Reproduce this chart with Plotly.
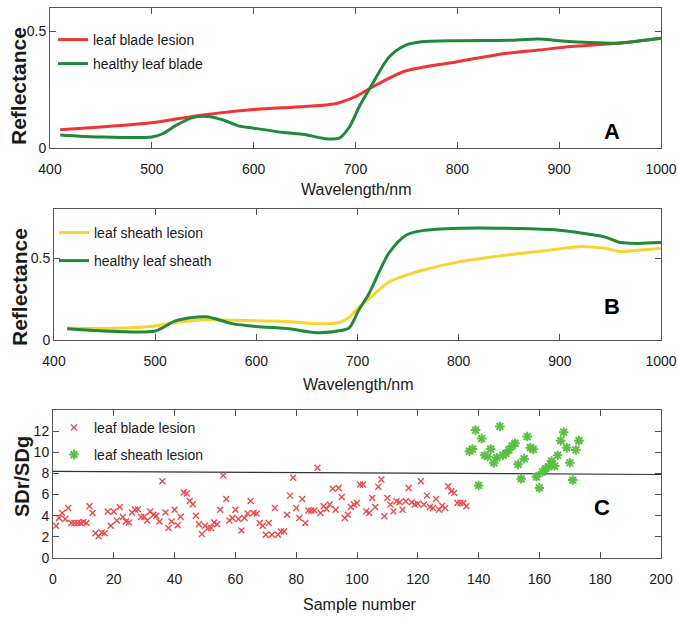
import plotly.graph_objects as go

# ---------------- Panel A data ----------------
blade_lesion_wl = [410, 450, 500, 550, 600, 650, 680, 700, 716, 749, 800, 847, 880, 912, 961, 1000]
blade_lesion = [0.078, 0.09, 0.108, 0.142, 0.165, 0.178, 0.19, 0.22, 0.26, 0.33, 0.37, 0.405, 0.42, 0.435, 0.45, 0.47]

healthy_blade_wl = [410, 450, 500, 510, 525, 540, 555, 570, 585, 600, 630, 650, 670, 684, 694, 704, 716, 733, 749,
                    765, 800, 850, 880, 900, 930, 960, 1000]
healthy_blade = [0.056, 0.047, 0.047, 0.06, 0.10, 0.13, 0.135, 0.12, 0.095, 0.085, 0.066, 0.058, 0.04, 0.042, 0.09,
                 0.18, 0.27, 0.39, 0.44, 0.455, 0.46, 0.462, 0.467, 0.46, 0.452, 0.45, 0.47]

# ---------------- Panel B data ----------------
sheath_wl = [413, 445, 500, 520, 550, 576, 600, 632, 659, 682, 692, 701, 711, 731, 748, 764, 800, 846, 895, 918,
             944, 960, 977, 1000]
sheath_lesion = [0.074, 0.07, 0.086, 0.107, 0.124, 0.12, 0.117, 0.113, 0.099, 0.107, 0.14, 0.2, 0.25, 0.354, 0.395,
                 0.426, 0.477, 0.518, 0.553, 0.57, 0.56, 0.54, 0.548, 0.56]
healthy_sheath = [0.068, 0.056, 0.055, 0.117, 0.142, 0.10, 0.082, 0.068, 0.045, 0.056, 0.076, 0.18, 0.28, 0.53, 0.64,
                  0.668, 0.683, 0.683, 0.673, 0.656, 0.63, 0.595, 0.59, 0.595]

# ---------------- Panel C data ----------------
blade_ratio = [3.05, 3.78, 4.25, 3.7, 4.73, 3.3, 3.3, 3.3, 3.3, 3.4, 3.3, 4.89, 4.25, 2.35, 2.05, 2.4, 2.35, 4.4,
               3.05, 4.4, 3.55, 4.83, 3.87, 3.46, 3.36, 4.3, 4.57, 4.6, 3.87, 3.9, 3.55, 4.4, 4.1, 3.99, 3.46, 7.27,
               4.3, 2.83, 3.46, 4.57, 3.1, 3.9, 6.2, 6.1, 5.4, 5.08, 3.99, 3.2, 2.28, 3.05, 2.83, 2.83, 3.36, 3.2,
               4.57, 7.8, 5.58, 3.55, 3.78, 4.57, 3.7, 2.6, 3.78, 4.2, 5.4, 4.25, 4.2, 3.3, 3.05, 2.19, 3.3, 2.19,
               4.73, 2.19, 2.5, 2.5, 4.1, 5.9, 7.6, 4.73, 3.78, 5.58, 3.3, 4.5, 4.5, 4.5, 8.54, 4.25, 4.89, 4.63,
               5.05, 6.54, 4.57, 6.63, 5.78, 3.78, 4.1, 4.82, 5.05, 5.2, 6.95, 6.95, 4.41, 4.25, 5.68, 4.82, 6.73,
               7.43, 3.94, 5.68, 5.05, 4.41, 5.37, 5.27, 4.57, 5.37, 6.63, 5.27, 5.05, 5.14, 7.27, 5.05, 5.9, 4.82,
               4.73, 5.58, 4.57, 4.95, 4.73, 6.79, 6.32, 6.16, 5.2, 5.2, 5.2, 4.89]
blade_samples = list(range(1, len(blade_ratio) + 1))

sheath_ratio = [10.1, 10.3, 12.1, 6.86, 11.3, 9.72, 9.6, 10.3, 9.0, 9.49, 12.45, 9.72, 9.9, 10.22, 10.6, 10.86,
                8.86, 7.49, 9.4, 11.49, 10.44, 10.28, 7.68, 6.63, 8.13, 8.45, 8.64, 9.17, 8.7, 9.72, 11.1, 11.9,
                10.44, 9.01, 7.37, 10.22, 11.1]
sheath_samples = list(range(137, 137 + len(sheath_ratio)))

threshold_x = [0, 200]
threshold_y = [8.2, 7.9]

wavelength_ticks = [400, 500, 600, 700, 800, 900, 1000]
sample_ticks = list(range(0, 201, 20))
ratio_ticks = list(range(0, 13, 2))
refl_ticks = [0, 0.5]
refl_ticktext = ["0", "0.5"]

# ---------------- styles ----------------
RED = "#ee3636"
GREEN = "#1f8a3a"
YELLOW = "#fbd232"
PT_RED = "#ec4a4a"
PT_GREEN = "#5cbf45"
FONT = "Liberation Sans, Arial, sans-serif"
TXT = "#1a1a1a"

W, H = 678, 620
RIGHT = 661


def xd(a, b):
    return [a / W, b / W]


def yd(top, bottom):
    return [1 - bottom / H, 1 - top / H]


def px(x):
    return x / W


def py(y):
    return 1 - y / H


fig = go.Figure()

fig.add_trace(go.Scatter(x=blade_lesion_wl, y=blade_lesion, mode="lines", name="leaf blade lesion",
                         line=dict(color=RED, width=3, shape="spline", smoothing=0.8),
                         xaxis="x", yaxis="y", legend="legend"))
fig.add_trace(go.Scatter(x=healthy_blade_wl, y=healthy_blade, mode="lines", name="healthy leaf blade",
                         line=dict(color=GREEN, width=3, shape="spline", smoothing=0.8),
                         xaxis="x", yaxis="y", legend="legend2"))

fig.add_trace(go.Scatter(x=sheath_wl, y=sheath_lesion, mode="lines", name="leaf sheath lesion",
                         line=dict(color=YELLOW, width=3, shape="spline", smoothing=0.8),
                         xaxis="x2", yaxis="y2", legend="legend3"))
fig.add_trace(go.Scatter(x=sheath_wl, y=healthy_sheath, mode="lines", name="healthy leaf sheath",
                         line=dict(color=GREEN, width=3, shape="spline", smoothing=0.8),
                         xaxis="x2", yaxis="y2", legend="legend4"))

fig.add_trace(go.Scatter(x=threshold_x, y=threshold_y, mode="lines", showlegend=False,
                         line=dict(color="#333333", width=1.2), xaxis="x3", yaxis="y3"))
fig.add_trace(go.Scatter(x=blade_samples, y=blade_ratio, mode="markers", name="leaf blade lesion",
                         marker=dict(symbol="x-thin-open", size=6, color=PT_RED, line=dict(color=PT_RED, width=1.4)),
                         xaxis="x3", yaxis="y3", legend="legend5"))
fig.add_trace(go.Scatter(x=sheath_samples, y=sheath_ratio, mode="markers", name="leaf sheath lesion",
                         marker=dict(symbol="asterisk-open", size=8, color=PT_GREEN,
                                     line=dict(color=PT_GREEN, width=2)),
                         xaxis="x3", yaxis="y3", legend="legend6"))

common_axis = dict(showline=True, linecolor="#555555", linewidth=1, mirror="allticks", ticks="inside",
                   ticklen=6, tickcolor="#555555", showgrid=False, zeroline=False, automargin=False,
                   tickfont=dict(family=FONT, size=14, color=TXT))

leg_common = dict(xanchor="left", yanchor="middle", bgcolor="rgba(0,0,0,0)", borderwidth=0,
                  font=dict(family=FONT, size=14, color=TXT))

annotations = [
    dict(text="<b>A</b>", x=px(622), y=py(117)),
    dict(text="<b>B</b>", x=px(622), y=py(306)),
    dict(text="<b>C</b>", x=px(612), y=py(522)),
]
for a in annotations:
    a.update(xref="paper", yref="paper", showarrow=False, font=dict(family=FONT, size=22, color="black"))

titles = [
    dict(text="Wavelength/nm", x=px(356), y=py(190), textangle=0, size=16),
    dict(text="Wavelength/nm", x=px(358), y=py(384), textangle=0, size=16),
    dict(text="Sample number", x=px(360), y=py(604), textangle=0, size=16),
    dict(text="<b>Reflectance</b>", x=px(19), y=py(86), textangle=-90, size=21),
    dict(text="<b>Reflectance</b>", x=px(19), y=py(287), textangle=-90, size=21),
    dict(text="<b>SDr/SDg</b>", x=px(22), y=py(477), textangle=-90, size=20),
]
for t in titles:
    size = t.pop("size")
    t.update(xref="paper", yref="paper", showarrow=False, xanchor="center", yanchor="middle",
             font=dict(family=FONT, size=size, color=TXT))
    annotations.append(t)

fig.update_layout(
    width=W, height=H, margin=dict(l=0, r=0, t=0, b=0),
    paper_bgcolor="white", plot_bgcolor="white",
    xaxis=dict(domain=xd(50, RIGHT), range=[400, 1000], tickvals=wavelength_ticks, anchor="y",
               ticklabelstandoff=8, **common_axis),
    yaxis=dict(domain=yd(8, 148), range=[0, 0.6], tickvals=refl_ticks, ticktext=refl_ticktext, anchor="x",
               **common_axis),
    xaxis2=dict(domain=xd(54, RIGHT), range=[400, 1000], tickvals=wavelength_ticks, anchor="y2",
                ticklabelstandoff=8, **common_axis),
    yaxis2=dict(domain=yd(209, 340), range=[0, 0.8], tickvals=refl_ticks, ticktext=refl_ticktext, anchor="x2",
                **common_axis),
    xaxis3=dict(domain=xd(53, RIGHT), range=[0, 200], tickvals=sample_ticks, anchor="y3",
                ticklabelstandoff=8, **common_axis),
    yaxis3=dict(domain=yd(410, 558), range=[0, 14], tickvals=ratio_ticks, anchor="x3", **common_axis),
    legend=dict(x=px(53), y=py(40), **leg_common),
    legend2=dict(x=px(53), y=py(64), **leg_common),
    legend3=dict(x=px(54), y=py(233), **leg_common),
    legend4=dict(x=px(54), y=py(261), **leg_common),
    legend5=dict(x=px(54), y=py(428), **leg_common),
    legend6=dict(x=px(54), y=py(455), **leg_common),
    annotations=annotations,
)

fig.write_html("out.html")
